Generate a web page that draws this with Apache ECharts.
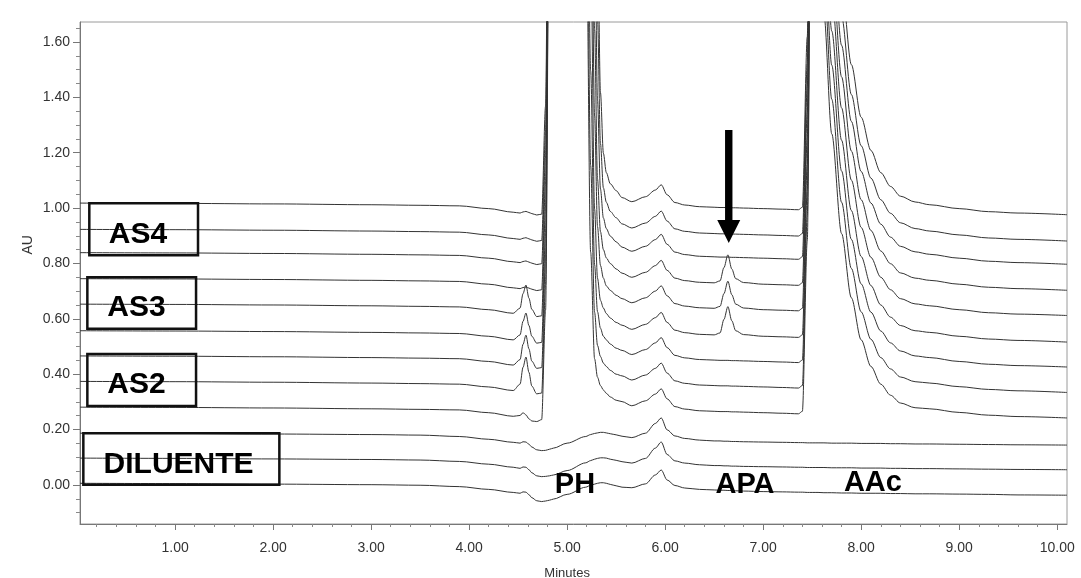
<!DOCTYPE html>
<html>
<head>
<meta charset="utf-8">
<script src="https://cdn.jsdelivr.net/npm/echarts@6/dist/echarts.min.js"></script>
<style>
html,body{margin:0;padding:0;background:#fff;}
#chart{width:1081px;height:578px;}
</style>
</head>
<body>
<div id="chart"></div>
<script>
// ---- data (minutes / AU) ----
const minutes = [0.03, 1.0, 2.0, 3.0, 3.5, 3.9, 4.2, 4.45,
  4.52, 4.55, 4.58, 4.61, 4.64, 4.69, 4.74,
  4.78, 4.82, 4.86, 5.0,
  5.19, 5.24, 5.28, 5.31, 5.34, 5.37, 5.40, 5.44, 5.50,
  5.56, 5.66, 5.80, 5.90, 5.96, 6.02, 6.10, 6.20, 6.35,
  6.50, 6.56, 6.60, 6.64, 6.68, 6.72, 6.80,
  7.00, 7.20, 7.36, 7.40, 7.45, 7.50,
  7.56, 7.62, 7.70, 7.80, 7.90, 8.00, 8.10, 8.20, 8.30, 8.40, 8.55,
  8.70, 9.00, 9.30, 9.60, 10.1];

// level of each trace at the start of the run (AU), top to bottom
const traceLevels = [1.018, 0.923, 0.839, 0.745, 0.653, 0.557, 0.466, 0.374, 0.281, 0.187, 0.097, 0.006];

// each trace: change from its start level (AU) at every entry of `minutes`
const traceAS4a = [0, -0.001, -0.003, -0.006, -0.008, -0.010, -0.020, -0.033,
  -0.036, -0.032, -0.030, -0.034, -0.038, -0.043, -0.040,
  0.35, 2.0, 3.0, 3.0,
  3.0, 3.0, 2.0, 1.0, 0.40, 0.18, 0.11, 0.07, 0.045,
  0.02, 0.005, 0.023, 0.047, 0.066, 0.03, 0.002, -0.007, -0.013,
  -0.015, -0.016, -0.016, -0.016, -0.017, -0.017, -0.018,
  -0.020, -0.022, -0.024, -0.015, 0.6, 2.6,
  2.30, 1.78, 1.24, 0.79, 0.50, 0.31, 0.19, 0.11, 0.06, 0.025, 0.004,
  -0.006, -0.020, -0.031, -0.036, -0.042];
const traceAS4b = [0, -0.001, -0.003, -0.006, -0.008, -0.010, -0.020, -0.033,
  -0.036, -0.032, -0.030, -0.034, -0.038, -0.043, -0.040,
  0.35, 2.0, 3.0, 3.0,
  3.0, 2.7, 1.6, 0.76, 0.31, 0.15, 0.098, 0.065, 0.042,
  0.02, 0.005, 0.023, 0.047, 0.066, 0.03, 0.002, -0.007, -0.013,
  -0.015, -0.016, -0.016, -0.016, -0.017, -0.017, -0.018,
  -0.020, -0.022, -0.024, -0.015, 0.6, 2.6,
  2.242, 1.735, 1.208, 0.770, 0.487, 0.302, 0.185, 0.107, 0.058, 0.024, 0.003,
  -0.006, -0.020, -0.031, -0.036, -0.042];
const traceAS4c = [0, -0.001, -0.003, -0.006, -0.008, -0.010, -0.020, -0.033,
  -0.036, -0.032, -0.030, -0.034, -0.038, -0.043, -0.040,
  0.35, 2.0, 3.0, 3.0,
  3.0, 2.4, 1.25, 0.55, 0.23, 0.125, 0.087, 0.06, 0.039,
  0.02, 0.005, 0.023, 0.047, 0.066, 0.03, 0.002, -0.007, -0.013,
  -0.015, -0.016, -0.016, -0.016, -0.017, -0.017, -0.018,
  -0.020, -0.022, -0.024, -0.015, 0.6, 2.6,
  2.184, 1.690, 1.177, 0.749, 0.474, 0.293, 0.179, 0.103, 0.056, 0.023, 0.003,
  -0.006, -0.020, -0.031, -0.036, -0.042];
const traceAS3a = [0, -0.001, -0.003, -0.006, -0.008, -0.010, -0.020, -0.033,
  -0.036, -0.032, -0.030, -0.034, -0.038, -0.043, -0.040,
  0.35, 2.0, 3.0, 3.0,
  3.0, 2.1, 0.9, 0.36, 0.17, 0.105, 0.075, 0.055, 0.035,
  0.02, 0.005, 0.023, 0.047, 0.066, 0.03, 0.002, -0.007, -0.013,
  -0.015, -0.008, 0.040, 0.086, 0.035, 0.0, -0.014,
  -0.020, -0.022, -0.024, -0.015, 0.6, 2.6,
  2.126, 1.645, 1.145, 0.729, 0.461, 0.285, 0.174, 0.100, 0.054, 0.021, 0.002,
  -0.006, -0.020, -0.031, -0.036, -0.042];
const traceAS3b = [0, -0.001, -0.003, -0.006, -0.008, -0.010, -0.020, -0.033,
  -0.014, 0.038, 0.069, 0.022, -0.019, -0.045, -0.042,
  0.35, 2.0, 3.0, 3.0,
  3.0, 1.8, 0.68, 0.28, 0.14, 0.094, 0.066, 0.05, 0.032,
  0.02, 0.005, 0.023, 0.047, 0.066, 0.03, 0.002, -0.007, -0.013,
  -0.015, -0.008, 0.038, 0.083, 0.034, 0.0, -0.014,
  -0.020, -0.022, -0.024, -0.015, 0.6, 2.6,
  2.068, 1.600, 1.114, 0.709, 0.448, 0.277, 0.169, 0.097, 0.052, 0.020, 0.001,
  -0.006, -0.020, -0.031, -0.036, -0.041];
const traceAS3c = [0, -0.001, -0.003, -0.006, -0.008, -0.010, -0.020, -0.033,
  -0.015, 0.034, 0.064, 0.019, -0.020, -0.045, -0.042,
  0.35, 2.0, 3.0, 3.0,
  2.8, 1.4, 0.44, 0.19, 0.11, 0.082, 0.062, 0.046, 0.03,
  0.02, 0.005, 0.023, 0.047, 0.066, 0.03, 0.002, -0.007, -0.013,
  -0.015, -0.008, 0.041, 0.087, 0.036, 0.0, -0.014,
  -0.020, -0.022, -0.024, -0.015, 0.6, 2.6,
  2.009, 1.554, 1.082, 0.688, 0.434, 0.268, 0.163, 0.093, 0.049, 0.019, 0.0,
  -0.006, -0.020, -0.030, -0.035, -0.041];
const traceAS2a = [0, -0.001, -0.003, -0.006, -0.008, -0.010, -0.020, -0.033,
  -0.013, 0.042, 0.075, 0.026, -0.019, -0.045, -0.042,
  0.35, 2.0, 3.0, 3.0,
  2.5, 1.03, 0.33, 0.16, 0.10, 0.071, 0.058, 0.043, 0.028,
  0.02, 0.005, 0.023, 0.047, 0.066, 0.03, 0.002, -0.007, -0.013,
  -0.015, -0.016, -0.016, -0.016, -0.017, -0.017, -0.018,
  -0.020, -0.022, -0.024, -0.015, 0.6, 2.6,
  1.951, 1.509, 1.050, 0.668, 0.421, 0.260, 0.158, 0.090, 0.047, 0.018, 0.0,
  -0.006, -0.020, -0.030, -0.035, -0.040];
const traceAS2b = [0, -0.001, -0.003, -0.006, -0.008, -0.010, -0.020, -0.033,
  -0.010, 0.051, 0.088, 0.033, -0.017, -0.045, -0.042,
  0.35, 2.0, 3.0, 3.0,
  2.2, 0.78, 0.25, 0.13, 0.09, 0.066, 0.054, 0.04, 0.026,
  0.02, 0.005, 0.023, 0.047, 0.066, 0.03, 0.002, -0.007, -0.013,
  -0.015, -0.016, -0.016, -0.016, -0.017, -0.017, -0.018,
  -0.020, -0.022, -0.024, -0.015, 0.6, 2.6,
  1.893, 1.464, 1.019, 0.647, 0.408, 0.251, 0.152, 0.086, 0.045, 0.016, -0.001,
  -0.006, -0.019, -0.029, -0.034, -0.040];
const traceAS2c = [0, -0.001, -0.003, -0.006, -0.008, -0.010, -0.020, -0.033,
  -0.030, -0.020, -0.028, -0.042, -0.050, -0.052, -0.045,
  0.35, 2.0, 3.0, 3.0,
  1.95, 0.56, 0.175, 0.108, 0.078, 0.062, 0.05, 0.037, 0.025,
  0.02, 0.005, 0.023, 0.047, 0.066, 0.03, 0.002, -0.007, -0.013,
  -0.015, -0.016, -0.016, -0.016, -0.017, -0.017, -0.018,
  -0.020, -0.022, -0.024, -0.015, 0.6, 2.6,
  1.835, 1.419, 0.987, 0.627, 0.395, 0.243, 0.147, 0.083, 0.043, 0.015, -0.002,
  -0.006, -0.019, -0.029, -0.034, -0.039];
const traceDil1 = [0, -0.001, -0.003, -0.005, -0.007, -0.012, -0.022, -0.033,
  -0.036, -0.031, -0.032, -0.040, -0.050, -0.060, -0.063,
  -0.062, -0.058, -0.054, -0.036,
  -0.012, -0.005, -0.001, 0.001, 0.003, 0.003, 0.001, -0.002, -0.006,
  -0.011, -0.016, 0.0, 0.035, 0.055, 0.012, -0.010, -0.019, -0.025,
  -0.028, -0.028, -0.029, -0.029, -0.030, -0.030, -0.031,
  -0.032, -0.033, -0.034, -0.034, -0.035, -0.035,
  -0.035, -0.035, -0.036, -0.036, -0.036, -0.037, -0.037, -0.037, -0.038, -0.038, -0.039,
  -0.039, -0.040, -0.041, -0.042, -0.043];
const traceDil2 = [0, -0.001, -0.003, -0.005, -0.007, -0.012, -0.022, -0.033,
  -0.037, -0.032, -0.033, -0.042, -0.053, -0.064, -0.067,
  -0.066, -0.064, -0.061, -0.045,
  -0.017, -0.009, -0.004, -0.001, 0.001, 0.001, 0.0, -0.004, -0.008,
  -0.013, -0.018, -0.001, 0.036, 0.058, 0.013, -0.010, -0.018, -0.024,
  -0.027, -0.027, -0.028, -0.028, -0.029, -0.029, -0.030,
  -0.031, -0.032, -0.033, -0.033, -0.034, -0.034,
  -0.034, -0.034, -0.035, -0.035, -0.035, -0.036, -0.036, -0.036, -0.037, -0.037, -0.038,
  -0.038, -0.039, -0.040, -0.041, -0.042];
const traceDil3 = [0, -0.001, -0.003, -0.005, -0.007, -0.012, -0.022, -0.033,
  -0.036, -0.031, -0.032, -0.041, -0.052, -0.063, -0.066,
  -0.064, -0.061, -0.057, -0.040,
  -0.014, -0.007, -0.003, 0.0, 0.002, 0.002, 0.0, -0.004, -0.009,
  -0.014, -0.016, -0.002, 0.030, 0.048, 0.012, -0.008, -0.017, -0.022,
  -0.024, -0.025, -0.025, -0.026, -0.026, -0.027, -0.028,
  -0.030, -0.031, -0.032, -0.032, -0.033, -0.033,
  -0.033, -0.034, -0.034, -0.035, -0.035, -0.036, -0.036, -0.036, -0.037, -0.037, -0.038,
  -0.038, -0.039, -0.040, -0.042, -0.043];

const traces = [traceAS4a, traceAS4b, traceAS4c, traceAS3a, traceAS3b, traceAS3c,
  traceAS2a, traceAS2b, traceAS2c, traceDil1, traceDil2, traceDil3];

// tick labels
const xTickValues = [1, 2, 3, 4, 5, 6, 7, 8, 9, 10];
const yTickValues = [0, 0.2, 0.4, 0.6, 0.8, 1.0, 1.2, 1.4, 1.6];

// annotation texts
const groupLabels = ['AS4', 'AS3', 'AS2', 'DILUENTE'];
const peakLabels = ['PH', 'APA', 'AAc'];

// ---- layout of annotations (data coordinates) ----
const groupBoxes = [
  {t0: 0.125, v0: 1.017, t1: 1.234, v1: 0.830, tc: 0.622, vc: 0.902},
  {t0: 0.105, v0: 0.750, t1: 1.214, v1: 0.564, tc: 0.607, vc: 0.641},
  {t0: 0.105, v0: 0.473, t1: 1.214, v1: 0.285, tc: 0.607, vc: 0.361},
  {t0: 0.064, v0: 0.187, t1: 2.064, v1: 0.001, tc: 1.036, vc: 0.072}
];
const peakLabelPos = [[5.08, 0.0], [6.815, 0.0], [8.12, 0.008]];
const arrowPos = {t: 6.649, top: 1.282, headBase: 0.957, tip: 0.874};
const yNamePos = [-0.5, 0.867];

const FONT = '"Liberation Sans", Arial, Helvetica, sans-serif';
const axisText = {fontFamily: FONT, fontSize: 14, color: '#333'};

const xMinor = [];
for (let k = 1; k <= 50; k++) { const v = k * 0.2; if (Math.abs(v - Math.round(v)) > 1e-6) xMinor.push(+v.toFixed(2)); }
const yMinor = [];
for (let k = -2; k <= 33; k++) { const v = k * 0.05; if (Math.abs(v * 5 - Math.round(v * 5)) > 1e-6) yMinor.push(+v.toFixed(2)); }

const chart = echarts.init(document.getElementById('chart'));

const series = traces.map((d, i) => ({
  type: 'line',
  xAxisIndex: 0,
  yAxisIndex: 0,
  data: minutes.map((t, j) => [t, +(traceLevels[i] + d[j]).toFixed(4)]),
  showSymbol: false,
  symbol: 'none',
  smooth: 0.3,
  smoothMonotone: 'x',
  clip: true,
  silent: true,
  lineStyle: {color: '#333', width: 1}
}));

chart.setOption({
  animation: false,
  backgroundColor: '#fff',
  grid: {left: 80, right: 14, top: 22, bottom: 54, show: true, borderColor: '#9a9a9a', borderWidth: 1,
    containLabel: false, outerBoundsMode: 'none'},
  xAxis: [{
    type: 'value', min: 0.03, max: 10.1, position: 'bottom',
    axisLine: {show: true, onZero: false, lineStyle: {color: '#777', width: 1}},
    axisTick: {show: true, length: 6, customValues: xTickValues, lineStyle: {color: '#777'}},
    axisLabel: Object.assign({customValues: xTickValues, margin: 17, formatter: v => v.toFixed(2)}, axisText),
    splitLine: {show: false}
  }, {
    type: 'value', min: 0.03, max: 10.1, position: 'bottom',
    axisLine: {show: false, onZero: false},
    axisTick: {show: true, length: 3, customValues: xMinor, lineStyle: {color: '#888'}},
    axisLabel: {show: false},
    splitLine: {show: false}
  }],
  yAxis: [{
    type: 'value', min: -0.141, max: 1.672, position: 'left',
    axisLine: {show: true, onZero: false, lineStyle: {color: '#777', width: 1}},
    axisTick: {show: true, length: 7, customValues: yTickValues, lineStyle: {color: '#777'}},
    axisLabel: Object.assign({customValues: yTickValues, margin: 10, formatter: v => v.toFixed(2)}, axisText),
    splitLine: {show: false}
  }, {
    type: 'value', min: -0.141, max: 1.672, position: 'left',
    axisLine: {show: false, onZero: false},
    axisTick: {show: true, length: 4, customValues: yMinor, lineStyle: {color: '#888'}},
    axisLabel: {show: false},
    splitLine: {show: false}
  }],
  series: series
});

// ---- annotations placed through the axes ----
const px = (t, v) => chart.convertToPixel({xAxisIndex: 0, yAxisIndex: 0}, [t, v]);
const graphics = [];
groupBoxes.forEach((b, i) => {
  const p0 = px(b.t0, b.v0), p1 = px(b.t1, b.v1), pc = px(b.tc, b.vc);
  graphics.push({
    type: 'rect', z: 100, silent: true,
    shape: {x: p0[0], y: p0[1], width: p1[0] - p0[0], height: p1[1] - p0[1]},
    style: {fill: 'none', stroke: '#111', lineWidth: 2.5}
  });
  graphics.push({
    type: 'text', z: 101, silent: true, x: pc[0], y: pc[1],
    style: {text: groupLabels[i], fill: '#000', font: 'bold 30px ' + FONT, align: 'center', verticalAlign: 'middle'}
  });
});
peakLabels.forEach((s, i) => {
  const p = px(peakLabelPos[i][0], peakLabelPos[i][1]);
  graphics.push({
    type: 'text', z: 101, silent: true, x: p[0], y: p[1],
    style: {text: s, fill: '#000', font: 'bold 29px ' + FONT, align: 'center', verticalAlign: 'middle'}
  });
});
const aTop = px(arrowPos.t, arrowPos.top), aBase = px(arrowPos.t, arrowPos.headBase), aTip = px(arrowPos.t, arrowPos.tip);
graphics.push({
  type: 'rect', z: 101, silent: true,
  shape: {x: aTop[0] - 3.7, y: aTop[1], width: 7.4, height: aBase[1] - aTop[1] + 1},
  style: {fill: '#000'}
});
graphics.push({
  type: 'polygon', z: 101, silent: true,
  shape: {points: [[aBase[0] - 11.5, aBase[1]], [aBase[0] + 11.5, aBase[1]], [aTip[0], aTip[1]]]},
  style: {fill: '#000'}
});
// axis titles
const yn = px(yNamePos[0], yNamePos[1]);
graphics.push({
  type: 'text', z: 101, silent: true, x: yn[0], y: yn[1], rotation: Math.PI / 2,
  style: {text: 'AU', fill: '#333', font: '14px ' + FONT, align: 'center', verticalAlign: 'middle'}
});
const xn = px(5.0, -0.141);
graphics.push({
  type: 'text', z: 101, silent: true, x: xn[0], y: xn[1] + 49,
  style: {text: 'Minutes', fill: '#333', font: '13px ' + FONT, align: 'center', verticalAlign: 'middle'}
});
chart.setOption({graphic: graphics});
</script>
</body>
</html>
